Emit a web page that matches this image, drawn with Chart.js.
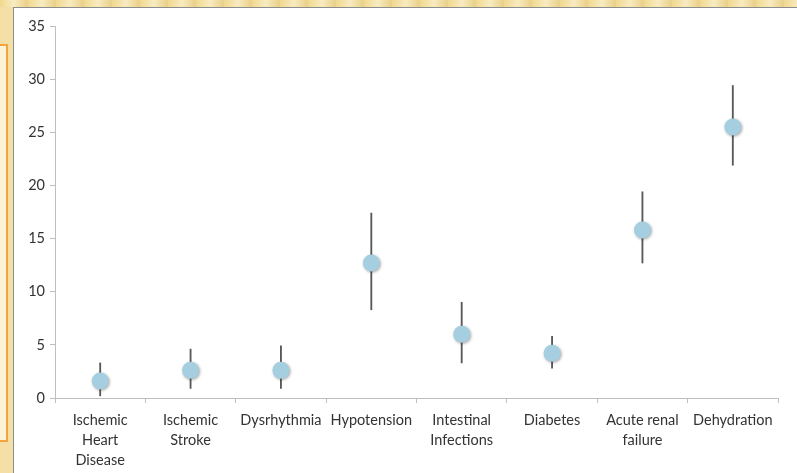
<!DOCTYPE html>
<html>
<head>
<meta charset="utf-8">
<script src="https://cdn.jsdelivr.net/npm/chart.js@4"></script>
<style>
  html, body { margin: 0; padding: 0; }
  body { width: 797px; height: 473px; position: relative; overflow: hidden;
         background: linear-gradient(90deg, #f3dfa6, #f7e6b6 30%, #ecd393 60%, #f5e2ac); }
  #topband { position: absolute; left: 0; top: 0; width: 797px; height: 7px;
             background: repeating-linear-gradient(90deg, #f0d88f 0, #f8ebc0 14px, #e9cf86 28px); }
  #leftbox { position: absolute; left: -4px; top: 44px; width: 8px; height: 394px;
             border: 2px solid #f4a43a; background: #fdf3d6; }
  #frame { position: absolute; left: 13px; top: 7px; width: 784px; height: 466px;
           background: #fff; border-left: 1px solid #8c8c8c; border-top: 1px solid #8c8c8c; box-sizing: border-box; }
  #wrap { position: absolute; left: 14px; top: 8px; width: 783px; height: 465px; }
</style>
</head>
<body>
<div id="topband"></div>
<div id="leftbox"></div>
<div id="frame"></div>
<div id="wrap"><canvas id="myChart"></canvas></div>
<script>
const categories = [
  ['Ischemic', 'Heart', 'Disease'],
  ['Ischemic', 'Stroke'],
  'Dysrhythmia',
  'Hypotension',
  ['Intestinal', 'Infections'],
  'Diabetes',
  ['Acute renal', 'failure'],
  'Dehydration'
];
const estimates = [1.6, 2.6, 2.6, 12.7, 6.0, 4.2, 15.8, 25.5];
const lower = [0.2, 0.9, 0.9, 8.3, 3.3, 2.8, 12.7, 21.9];
const upper = [3.3, 4.6, 4.9, 17.4, 9.0, 5.8, 19.4, 29.4];
const yTicks = [0, 5, 10, 15, 20, 25, 30, 35];

document.addEventListener('DOMContentLoaded', function() {
  const ctx = document.getElementById('myChart').getContext('2d');

  // ombre légère sous les points
  const shadow = {
    id: 'shadow',
    beforeDatasetDraw(chart, args) {
      if (args.index === 1) {
        chart.ctx.save();
        chart.ctx.shadowColor = 'rgba(0,0,0,0.35)';
        chart.ctx.shadowBlur = 3;
        chart.ctx.shadowOffsetX = 1;
        chart.ctx.shadowOffsetY = 1;
      }
    },
    afterDatasetDraw(chart, args) {
      if (args.index === 1) chart.ctx.restore();
    }
  };

  const axisFont = { family: 'Lato, "Open Sans", sans-serif', size: 14.5 };

  new Chart(ctx, {
    type: 'bar',
    data: {
      labels: categories,
      datasets: [{
        label: 'CI',
        data: lower.map((v, i) => [v, upper[i]]),
        backgroundColor: '#595959',
        barThickness: 1.2,
        order: 2
      }, {
        type: 'line',
        label: 'Estimate',
        data: estimates,
        showLine: false,
        pointRadius: 8.5,
        pointBackgroundColor: '#a5cfe0',
        pointBorderColor: '#a5cfe0',
        pointBorderWidth: 0,
        order: 1
      }]
    },
    plugins: [shadow],
    options: {
      responsive: true,
      maintainAspectRatio: false,
      animation: false,
      layout: { padding: { top: 18, right: 19, left: 0, bottom: 0 } },
      plugins: {
        legend: { display: false },
        tooltip: { enabled: false }
      },
      scales: {
        y: {
          min: 0,
          max: 35,
          afterBuildTicks: (s) => { s.ticks = yTicks.map(v => ({ value: v })); },
          afterFit: (s) => { s.width = 41; },
          grid: { drawOnChartArea: false, drawTicks: true, tickLength: 5, color: '#bfbfbf' },
          border: { color: '#bfbfbf', width: 1 },
          ticks: { color: '#333333', font: axisFont, padding: 5 }
        },
        x: {
          offset: true,
          afterFit: (s) => { s.height = 75; },
          grid: { offset: true, drawOnChartArea: false, drawTicks: true, tickLength: 5, color: '#bfbfbf' },
          border: { color: '#bfbfbf', width: 1 },
          ticks: { color: '#333333', font: Object.assign({}, axisFont, { lineHeight: 1.35 }), padding: 8, maxRotation: 0, autoSkip: false }
        }
      }
    }
  });
});
</script>
</body>
</html>
